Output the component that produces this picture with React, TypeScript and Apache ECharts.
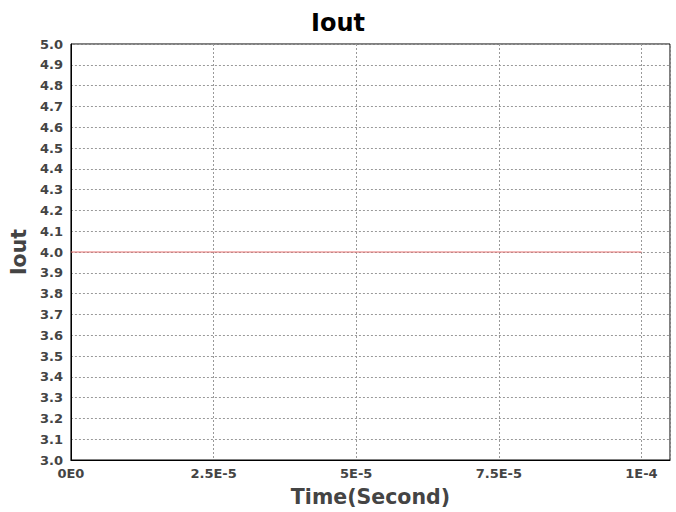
import React, { useEffect, useRef } from "react";
import * as echarts from "echarts";

const xTickLabels = ["0E0", "2.5E-5", "5E-5", "7.5E-5", "1E-4"];
const timeValues = [0, 2.5e-5, 5e-5, 7.5e-5, 1e-4];
const ioutValues = [4.0, 4.0, 4.0, 4.0, 4.0];

export default function App() {
  const ref = useRef<HTMLDivElement>(null);
  useEffect(() => {
    if (!ref.current) return;
    const chart = echarts.init(ref.current, null, { renderer: "svg" });
    const font = "DejaVu Sans";
    chart.setOption({
      animation: false,
      backgroundColor: "#ffffff",
      title: {
        text: "Iout",
        left: "center",
        top: 6,
        textStyle: { fontFamily: font, fontWeight: "bold", fontSize: 24, color: "#000" },
      },
      grid: {
        left: 70,
        right: 6,
        top: 44,
        bottom: 48,
        show: true,
        borderColor: "#000",
        borderWidth: 1,
        backgroundColor: "transparent",
      },
      xAxis: {
        type: "value",
        min: 0,
        max: 1.05e-4,
        interval: 2.5e-5,
        name: "Time(Second)",
        nameLocation: "middle",
        nameGap: 26,
        nameTextStyle: { fontFamily: font, fontWeight: "bold", fontSize: 20.5, color: "#444" },
        axisLine: { show: true, lineStyle: { color: "#000" } },
        axisTick: { show: false },
        axisLabel: {
          showMaxLabel: false,
          fontFamily: font,
          fontWeight: "bold",
          fontSize: 13,
          color: "#444",
          margin: 7,
          formatter: (v: number) => {
            const i = Math.round(v / 2.5e-5);
            return xTickLabels[i] ?? "";
          },
        },
        splitLine: { show: true, lineStyle: { color: "#999", type: [2, 2], width: 1 } },
      },
      yAxis: {
        type: "value",
        min: 3.0,
        max: 5.0,
        interval: 0.1,
        name: "Iout",
        nameLocation: "middle",
        nameGap: 34,
        nameTextStyle: { fontFamily: font, fontWeight: "bold", fontSize: 20.5, color: "#444" },
        axisLine: { show: true, lineStyle: { color: "#000" } },
        axisTick: { show: false },
        axisLabel: {
          fontFamily: font,
          fontWeight: "bold",
          fontSize: 13,
          color: "#444",
          margin: 8,
          formatter: (v: number) => v.toFixed(1),
        },
        splitLine: { show: true, lineStyle: { color: "#999", type: [2, 2], width: 1 } },
      },
      series: [
        {
          type: "line",
          z: 10,
          data: timeValues.map((t, i) => [t, ioutValues[i]]),
          showSymbol: false,
          lineStyle: { color: "#e57373", width: 1.2 },
        },
      ],
    });
    return () => chart.dispose();
  }, []);
  return <div ref={ref} style={{ width: 676, height: 512, position: "absolute", left: 0, top: 0 }} />;
}
